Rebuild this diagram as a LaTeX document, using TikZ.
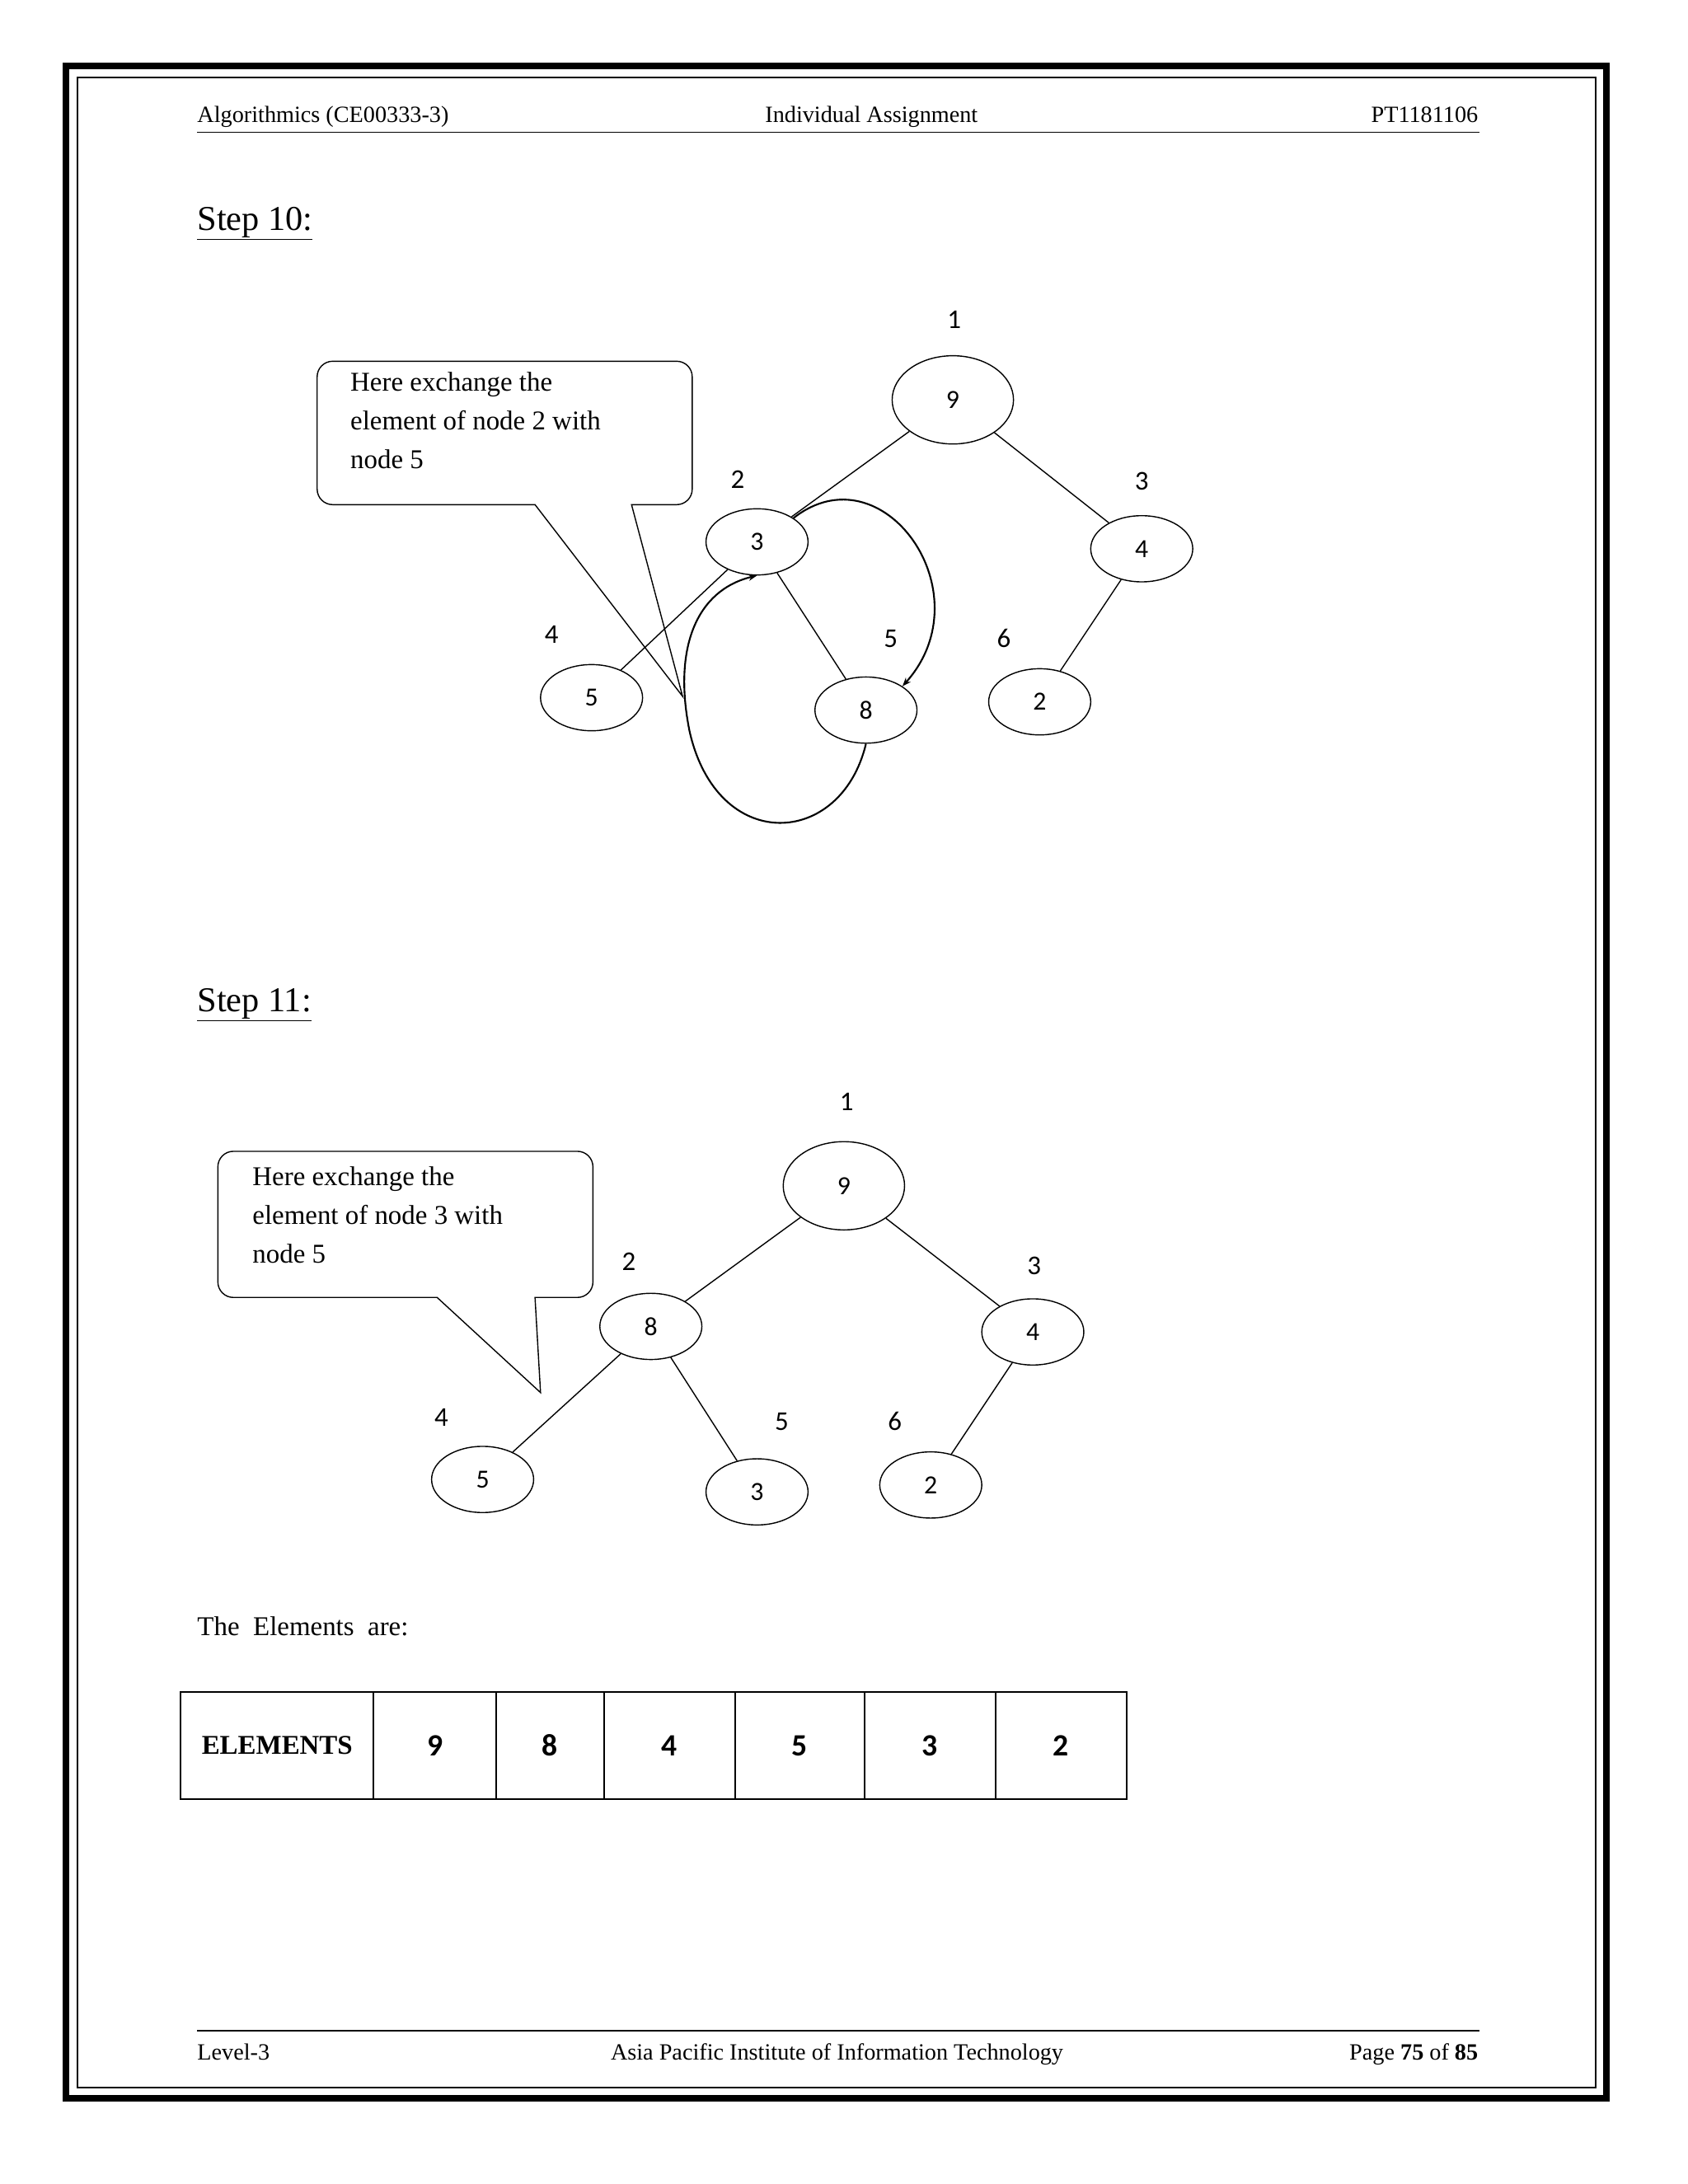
\documentclass[tikz,border=0pt]{standalone}
\usepackage{fontspec}
\setmainfont{Liberation Serif}
\newfontfamily\calfont{Carlito}
\usetikzlibrary{shapes.geometric,arrows.meta}
\begin{document}
\begin{tikzpicture}[x=0.05cm,y=-0.05cm,
  hn/.style={draw,line width=1.2pt,ellipse,minimum width=74*0.05cm,minimum height=48*0.05cm,inner sep=0pt,font=\calfont\fontsize{27}{27}\selectfont},
  big/.style={hn,minimum width=88*0.05cm,minimum height=64*0.05cm},
  lab/.style={font=\calfont\fontsize{28}{28}\selectfont},
  ed/.style={line width=1.2pt},
  txt/.style={font=\fontsize{28}{40}\selectfont,align=left,anchor=north west,inner sep=0pt},
  hdr/.style={font=\fontsize{24}{24}\selectfont,inner sep=0pt},
  cell/.style={draw,line width=1.8pt,minimum height=78*0.05cm,inner sep=0pt,font=\calfont\bfseries\fontsize{32}{32}\selectfont}]
\useasboundingbox (0,0) rectangle (1224,1584);
\fill[white] (0,0) rectangle (1224,1584);
\draw[line width=7pt] (48,48) rectangle (1165,1522);
\draw[line width=1.5pt] (56,56) rectangle (1157,1514);
% header
\node[hdr,anchor=base west] (h1) at (143,89) {Algorithmics (CE00333-3)};
\node[hdr,anchor=base] (h2) at (632,89) {Individual Assignment};
\node[hdr,anchor=base east] (h3) at (1072,89) {PT1181106};
\draw[line width=1.5pt] (143,96) -- (1073,96);
% footer
\draw[line width=1.5pt] (143,1473) -- (1073,1473);
\node[hdr,anchor=base west] (f1) at (143,1494) {Level-3};
\node[hdr,anchor=base] (f2) at (607,1494) {Asia Pacific Institute of Information Technology};
\node[hdr,anchor=base east] (f3) at (1072,1494) {Page \textbf{75} of \textbf{85}};
% step 10
\node[font=\fontsize{36}{36}\selectfont,anchor=base west,inner sep=0pt] (s10) at (143,167) {\underline{Step 10:}};
\node[big] (a9) at (691,290) {9};
\node[hn] (a3) at (549,393) {3};
\node[hn] (a4) at (828,398) {4};
\node[hn] (a5) at (429,506) {5};
\node[hn] (a8) at (628,515) {8};
\node[hn] (a2) at (754,509) {2};
\node[lab] (l1) at (692,232) {1};
\node[lab] (l2) at (535,348) {2};
\node[lab] (l3) at (828,349) {3};
\node[lab] (l4) at (400,460) {4};
\node[lab] (l5) at (646,463) {5};
\node[lab] (l6) at (728,463) {6};
\draw[ed] (a9) -- (a3); \draw[ed] (a9) -- (a4); \draw[ed] (a3) -- (a5);
\draw[ed] (a3) -- (a8); \draw[ed] (a4) -- (a2);
\draw[ed] (388,366) [rounded corners=16] -- (230,366) -- (230,262) -- (502,262) -- (502,366) [sharp corners] -- (458,366) -- (495,505) -- cycle;
\node[txt] (c1) at (254,270) {Here exchange the\\element of node 2 with\\node 5};
\draw[line width=1.8pt,-{Stealth[length=9pt]}] (a3.north east) .. controls (640,325) and (715,430) .. (a8.north east);
\draw[line width=1.8pt,-{Stealth[length=9pt]}] (a8.south) .. controls (610,615) and (520,620) .. (500,530) .. controls (488,470) and (505,428) .. (a3.south);
% step 11
\node[font=\fontsize{36}{36}\selectfont,anchor=base west,inner sep=0pt] (s11) at (143,734) {\underline{Step 11:}};
\node[big] (b9) at (612,860) {9};
\node[hn] (b8) at (472,962) {8};
\node[hn] (b4) at (749,966) {4};
\node[hn] (b5) at (350,1073) {5};
\node[hn] (b3) at (549,1082) {3};
\node[hn] (b2) at (675,1077) {2};
\node[lab] (m1) at (614,799) {1};
\node[lab] (m2) at (456,915) {2};
\node[lab] (m3) at (750,918) {3};
\node[lab] (m4) at (320,1028) {4};
\node[lab] (m5) at (567,1031) {5};
\node[lab] (m6) at (649,1031) {6};
\draw[ed] (b9) -- (b8); \draw[ed] (b9) -- (b4); \draw[ed] (b8) -- (b5);
\draw[ed] (b8) -- (b3); \draw[ed] (b4) -- (b2);
\draw[ed] (317,941) [rounded corners=16] -- (158,941) -- (158,835) -- (430,835) -- (430,941) [sharp corners] -- (388,941) -- (392,1010) -- cycle;
\node[txt] (c2) at (183,846) {Here exchange the\\element of node 3 with\\node 5};
\node[font=\fontsize{28}{28}\selectfont,anchor=base west,inner sep=0pt] (el) at (143,1186) {The \ Elements \ are:};
% table
\node[cell,minimum width=140*0.05cm,font=\bfseries\fontsize{28}{28}\selectfont] (t0) at (201,1266) {ELEMENTS};
\node[cell,minimum width=89*0.05cm] (t1) at (315.5,1266) {9};
\node[cell,minimum width=78*0.05cm] (t2) at (399,1266) {8};
\node[cell,minimum width=95*0.05cm] (t3) at (485.5,1266) {4};
\node[cell,minimum width=94*0.05cm] (t4) at (580,1266) {5};
\node[cell,minimum width=95*0.05cm] (t5) at (674.5,1266) {3};
\node[cell,minimum width=95*0.05cm] (t6) at (769.5,1266) {2};
\end{tikzpicture}
\end{document}
